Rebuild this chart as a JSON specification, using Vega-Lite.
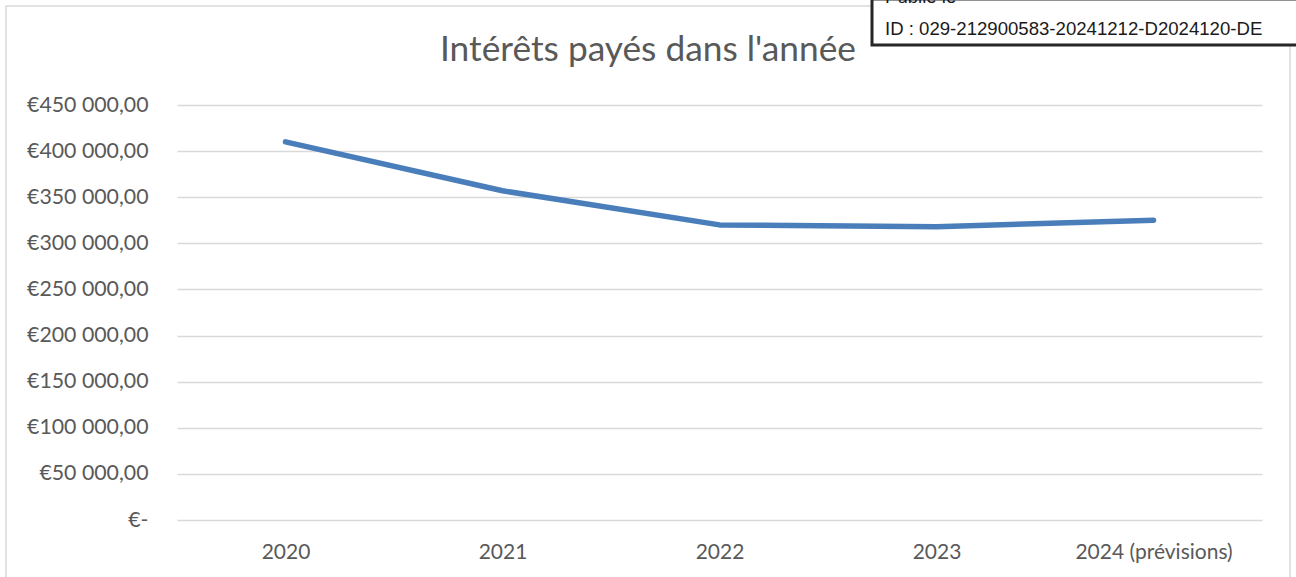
{
  "$schema": "https://vega.github.io/schema/vega-lite/v6.json",
  "width": 1085,
  "height": 415,
  "autosize": {"type": "none"},
  "padding": {"left": 177, "top": 105, "right": 34, "bottom": 57},
  "background": "white",
  "config": {
    "view": {"stroke": null},
    "locale": {"number": {"decimal": ",", "thousands": "\u00a0", "grouping": [3], "currency": ["€", ""]}}
  },
  "title": {
    "text": "Intérêts payés dans l'année",
    "font": "Lato",
    "fontSize": 35.3,
    "fontWeight": "normal",
    "color": "#595959",
    "anchor": "middle",
    "dx": -71.5,
    "baseline": "alphabetic",
    "offset": -108
  },
  "datasets": {
    "interets": [
      {"annee": "2020", "montant": 410000},
      {"annee": "2021", "montant": 357000},
      {"annee": "2022", "montant": 320000},
      {"annee": "2023", "montant": 318000},
      {"annee": "2024 (prévisions)", "montant": 325000}
    ]
  },
  "data": {"name": "interets"},
  "encoding": {
    "x": {
      "field": "annee",
      "type": "nominal",
      "sort": null,
      "scale": {"type": "point", "padding": 0.5, "domain": ["2020", "2021", "2022", "2023", "2024 (prévisions)"]},
      "axis": {
        "title": null,
        "labelAngle": 0,
        "labelFont": "Lato",
        "labelFontSize": 21,
        "labelColor": "#595959",
        "labelPadding": 21,
        "ticks": false,
        "domain": false,
        "grid": false
      }
    }
  },
  "layer": [
    {
      "data": {"values": [{}]},
      "mark": {"type": "rect", "fill": null, "stroke": "#d9d9d9", "strokeWidth": 1.5, "xOffset": -279.5, "x2Offset": 136.5},
      "encoding": {
        "x": {"datum": "2020", "type": "nominal"},
        "x2": {"datum": "2024 (prévisions)"},
        "y": {"datum": 557350, "type": "quantitative"},
        "y2": {"datum": -86747}
      }
    },
    {
      "mark": {"type": "line", "color": "#4a7ebb", "strokeWidth": 5.5, "strokeCap": "round", "strokeJoin": "round"},
      "encoding": {
        "y": {
          "field": "montant",
          "type": "quantitative",
          "scale": {"domain": [0, 450000], "nice": false, "zero": true},
          "axis": {
            "title": null,
            "values": [0, 50000, 100000, 150000, 200000, 250000, 300000, 350000, 400000, 450000],
            "labelExpr": "datum.value == 0 ? '€-\u00a0\u00a0' : '€' + format(datum.value, ',.2f')",
            "labelFont": "Lato",
            "labelFontSize": 21.3,
            "labelColor": "#595959",
            "labelPadding": 29,
            "ticks": false,
            "domain": false,
            "grid": true,
            "gridColor": "#d9d9d9",
            "gridWidth": 1.3
          }
        }
      }
    },
    {
      "data": {"values": [{}]},
      "mark": {"type": "rect", "fill": "white", "stroke": "#262626", "strokeWidth": 3, "xOffset": -64.5, "x2Offset": 200},
      "encoding": {
        "x": {"datum": "2023", "type": "nominal"},
        "x2": {"datum": "2024 (prévisions)"},
        "y": {"datum": 565000, "type": "quantitative"},
        "y2": {"datum": 515060}
      }
    },
    {
      "data": {"values": [{"ligne": "Publié le"}]},
      "mark": {"type": "text", "align": "left", "baseline": "alphabetic", "dx": -51.5, "font": "Liberation Sans", "fontSize": 18.6, "color": "#1a1a1a"},
      "encoding": {
        "x": {"datum": "2023", "type": "nominal"},
        "y": {"datum": 560600, "type": "quantitative"},
        "text": {"field": "ligne", "type": "nominal"}
      }
    },
    {
      "data": {"values": [{"ligne": "ID : 029-212900583-20241212-D2024120-DE"}]},
      "mark": {"type": "text", "align": "left", "baseline": "alphabetic", "dx": -51.5, "font": "Liberation Sans", "fontSize": 18.6, "color": "#1a1a1a"},
      "encoding": {
        "x": {"datum": "2023", "type": "nominal"},
        "y": {"datum": 525904, "type": "quantitative"},
        "text": {"field": "ligne", "type": "nominal"}
      }
    }
  ]
}
